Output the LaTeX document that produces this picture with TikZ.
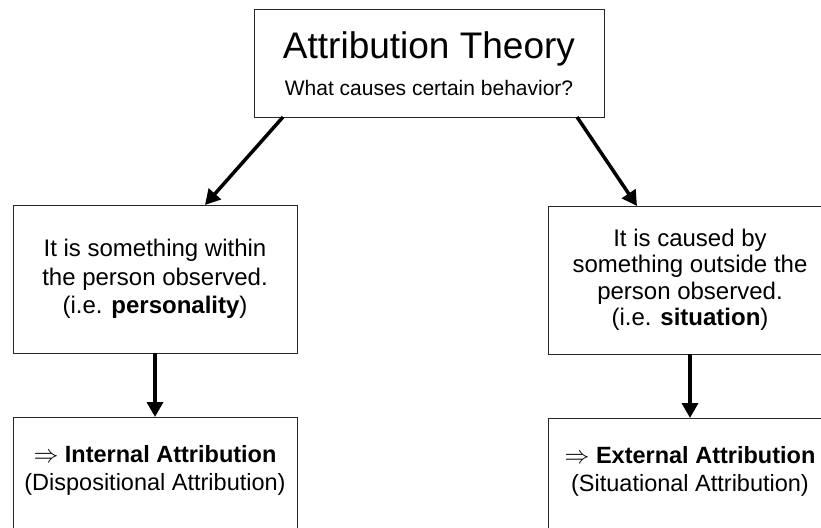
\documentclass[tikz,border=0pt]{standalone}
\usepackage{fontspec}
\setmainfont{Liberation Sans}
\usetikzlibrary{positioning,arrows.meta}

\tikzset{
  box/.style={draw=black!85, line width=1pt, outer sep=0pt, inner sep=0pt,
    align=center, minimum width=284pt, minimum height=148pt,
    font=\fontsize{24}{28.5}\selectfont},
  result/.style={box, minimum height=0pt, inner ysep=28pt, text depth=100pt,
    font=\fontsize{23.5}{28}\selectfont},
  flow/.style={-{Triangle[length=15pt,width=16pt]}, line width=3.5pt},
}

\begin{document}
\begin{tikzpicture}[x=1pt, y=1pt, node distance=64pt]
    \useasboundingbox (0,0) rectangle (821,-527);
    \clip (0,0) rectangle (821,-527);

    \node[box, minimum width=350pt, minimum height=107pt, font=\fontsize{21}{37}\selectfont]
      (title) at (429,-63.5) {{\fontsize{37}{37}\selectfont Attribution Theory}\\What causes certain behavior?};
    \node[box] (inner) [below=88pt of title, xshift=-274pt]
      {It is something within\\the person observed.\\(i.e. \textbf{personality})};
    \node[box, font=\fontsize{24}{26.5}\selectfont] (outer) [below=89pt of title, xshift=261pt]
      {It is caused by\\something outside the\\person observed.\\(i.e. \textbf{situation})};
    \node[result] (internal) [below=of inner]
      {$\Rightarrow$ \textbf{Internal Attribution}\\(Dispositional Attribution)};
    \node[result] (external) [below=of outer]
      {$\Rightarrow$ \textbf{External Attribution}\\(Situational Attribution)};

    \draw[flow] ([xshift=29pt]title.south west) -- ([xshift=50pt]inner.north);
    \draw[flow] ([xshift=-27pt]title.south east) -- ([xshift=-53pt]outer.north);
    \draw[flow] (inner.south) -- (internal.north);
    \draw[flow] (outer.south) -- (external.north);
\end{tikzpicture}
\end{document}
